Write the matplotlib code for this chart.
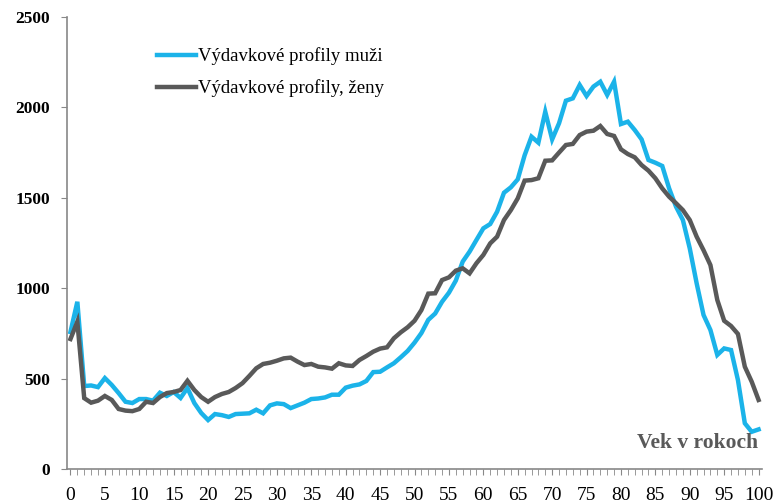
import matplotlib
matplotlib.use("Agg")
import matplotlib.pyplot as plt
import numpy as np

plt.rcParams['font.family'] = ['Liberation Serif', 'DejaVu Serif']

# Vek 0..100
ages = list(range(0, 101))

# Výdavkové profily muži
muzi = [758, 925, 459, 462, 453, 503, 465, 420, 372, 365,
        387, 387, 378, 422, 404, 426, 393, 448, 365, 310,
        271, 304, 298, 288, 304, 306, 308, 328, 308, 352,
        363, 359, 337, 352, 367, 387, 390, 396, 411, 411,
        450, 461, 468, 487, 536, 538, 562, 585, 618, 653,
        699, 752, 825, 860, 925, 975, 1042, 1147, 1202, 1267,
        1331, 1355, 1423, 1528, 1558, 1602, 1735, 1838, 1805, 1976,
        1823, 1912, 2037, 2050, 2124, 2063, 2115, 2142, 2069, 2142,
        1908, 1921, 1875, 1823, 1709, 1694, 1676, 1552, 1451, 1377,
        1220, 1027, 852, 769, 631, 667, 658, 492, 253, 206,
        219]

# Výdavkové profily ženy
zeny = [719, 815, 392, 367, 378, 404, 382, 332, 323, 320,
        332, 372, 365, 398, 420, 426, 437, 488, 437, 398,
        372, 398, 415, 426, 448, 475, 515, 557, 581, 588,
        599, 612, 616, 594, 575, 581, 566, 562, 555, 585,
        573, 570, 603, 625, 649, 666, 673, 723, 756, 784,
        820, 879, 970, 972, 1045, 1060, 1097, 1110, 1082, 1138,
        1184, 1248, 1285, 1377, 1432, 1497, 1595, 1598, 1608, 1705,
        1707, 1750, 1792, 1798, 1847, 1866, 1871, 1897, 1853, 1842,
        1768, 1742, 1724, 1681, 1650, 1608, 1552, 1506, 1470, 1432,
        1377, 1285, 1210, 1128, 935, 820, 791, 747, 566, 483,
        382]

blue = "#1BB3E9"
gray = "#595959"

fig = plt.figure(figsize=(7.73, 5.04), dpi=100)
ax = fig.add_axes([0.0867, 0.0694, 0.8991, 0.8969])

ax.plot(ages, muzi, color=blue, lw=3.2, solid_joinstyle='miter', label="Výdavkové profily muži")
ax.plot(ages, zeny, color=gray, lw=3.2, solid_joinstyle='miter', label="Výdavkové profily, ženy")

ax.set_xlim(-0.5, 100.5)
ax.set_ylim(0, 2500)

ax.set_yticks(np.arange(0, 2501, 500))
ax.set_xticks(np.arange(0, 101, 5))
ax.set_xticks(np.arange(0, 101, 1), minor=True)
ax.tick_params(axis='y', length=4, color='#888888', labelsize=12.5, pad=8)
ax.tick_params(axis='x', which='major', length=4, color='#888888', labelsize=14, pad=9)
ax.tick_params(axis='x', which='minor', length=4, color='#888888')
for lab in ax.get_yticklabels():
    lab.set_fontweight('bold')

for s in ['top', 'right']:
    ax.spines[s].set_visible(False)
for s in ['left', 'bottom']:
    ax.spines[s].set_color('#888888')
    ax.spines[s].set_linewidth(1.2)

ax.legend(loc='upper left', bbox_to_anchor=(0.105, 0.97), frameon=False,
          fontsize=13.5, handlelength=2.1, handletextpad=0.1, labelspacing=0.75)

ax.text(0.995, 0.035, "Vek v rokoch", transform=ax.transAxes, ha='right', va='bottom',
        fontsize=15.5, fontweight='bold', color=gray)

fig.savefig("out.png", dpi=100)
